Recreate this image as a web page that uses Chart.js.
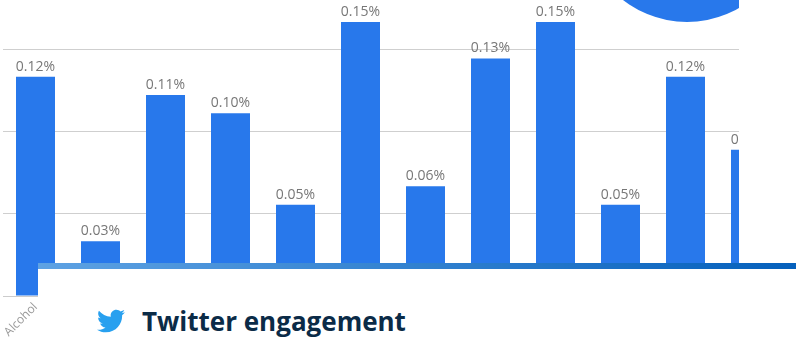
<!DOCTYPE html>
<html lang="en">
<head>
<meta charset="UTF-8">
<title>Twitter engagement</title>
<script src="https://cdn.jsdelivr.net/npm/chart.js"></script>
<style>
  html, body { margin: 0; padding: 0; background: #fff; overflow: hidden; }
  #stage { position: relative; width: 796px; height: 341px; overflow: hidden; }
  #plot { position: absolute; left: 0; top: 0; width: 739px; height: 341px; overflow: hidden; }
  #plot canvas { position: absolute; left: 0; top: 0; }
  #badge { position: absolute; left: 583px; top: -186px; width: 208px; height: 208px; border-radius: 50%; background: #2878eb; }
  #panel { position: absolute; left: 38px; top: 263px; width: 758px; height: 78px; background: #fff; }
  #strip { height: 6px; background: linear-gradient(90deg, #5ea2e3, #0560bc); }
  #bird { position: absolute; left: 59px; top: 44px; width: 28px; height: 28px; }
  #title { position: absolute; left: 104px; top: 40px; font: 700 26px "Open Sans", sans-serif; color: #0b2b47; white-space: nowrap; line-height: 36px; }
</style>
</head>
<body>
<div id="stage">
  <div id="plot">
    <canvas id="engagementChart" width="796" height="341"></canvas>
    <div id="badge"></div>
  </div>
  <div id="panel">
    <div id="strip"></div>
    <svg id="bird" viewBox="0 0 512 512"><path fill="#28a0ef" d="M459.37 151.716c.325 4.548.325 9.097.325 13.645 0 138.72-105.583 298.558-298.558 298.558-59.452 0-114.68-17.219-161.137-47.106 8.447.974 16.568 1.299 25.34 1.299 49.055 0 94.213-16.568 130.274-44.832-46.132-.975-84.792-31.188-98.112-72.772 6.498.974 12.995 1.624 19.818 1.624 9.421 0 18.843-1.3 27.614-3.573-48.081-9.747-84.143-51.98-84.143-102.985v-1.299c13.969 7.797 30.214 12.67 47.431 13.319-28.264-18.843-46.781-51.005-46.781-87.391 0-19.492 5.197-37.36 14.294-52.954 51.655 63.675 129.3 105.258 216.365 109.807-1.624-7.797-2.599-15.918-2.599-24.04 0-57.828 46.782-104.934 104.934-104.934 30.213 0 57.502 12.67 76.67 33.137 23.715-4.548 46.456-13.32 66.599-25.34-7.798 23.715-24.366 43.657-46.457 56.974 21.117-2.273 41.584-8.122 60.426-16.243-14.292 20.791-32.161 39.308-52.628 54.253z"/></svg>
    <div id="title">Twitter engagement</div>
  </div>
</div>

<script>
  // Only the first category name is ever shown, the rest sit behind the panel
  const categories = ['Alcohol', '', '', '', '', '', '', '', '', '', '', ''];
  const engagement = [0.12, 0.03, 0.11, 0.10, 0.05, 0.15, 0.06, 0.13, 0.15, 0.05, 0.12, 0.08];
  const gridTicks = [0, 0.045, 0.09, 0.135];
  const yMax = 0.162;

  // Percent labels above each bar
  const valueLabels = {
    id: 'valueLabels',
    afterDatasetsDraw(chart) {
      const ctx = chart.ctx;
      ctx.save();
      ctx.font = '14px "Open Sans", sans-serif';
      ctx.fillStyle = '#777777';
      ctx.textAlign = 'center';
      ctx.textBaseline = 'alphabetic';
      chart.getDatasetMeta(0).data.forEach((bar, i) => {
        ctx.fillText(engagement[i].toFixed(2) + '%', bar.x, bar.y - 6);
      });
      ctx.restore();
    }
  };

  new Chart(document.getElementById('engagementChart').getContext('2d'), {
    type: 'bar',
    data: {
      labels: categories,
      datasets: [{
        data: engagement,
        backgroundColor: '#2878eb',
        barPercentage: 0.6,
        categoryPercentage: 1
      }]
    },
    options: {
      responsive: false,
      animation: false,
      layout: { padding: { left: 3, right: 13, top: 0, bottom: 0 } },
      plugins: { legend: { display: false }, tooltip: { enabled: false } },
      scales: {
        x: {
          afterFit(scale) { scale.height = 45; },
          grid: { display: false, drawTicks: false },
          border: { display: true, color: '#cccccc', width: 1 },
          ticks: {
            autoSkip: false,
            minRotation: 45,
            maxRotation: 45,
            padding: 4,
            color: '#999999',
            font: { family: '"Open Sans", sans-serif', size: 12 }
          }
        },
        y: {
          min: 0,
          max: yMax,
          afterFit(scale) { scale.width = 0; },
          afterBuildTicks(scale) { scale.ticks = gridTicks.map(value => ({ value })); },
          ticks: { display: false },
          border: { display: false },
          grid: {
            drawTicks: false,
            color: ctx => ctx.tick.value === 0 ? 'transparent' : '#cfcfcf',
            lineWidth: 1,
            tickBorderDash: [1, 2]
          }
        }
      }
    },
    plugins: [valueLabels]
  });
</script>
</body>
</html>
